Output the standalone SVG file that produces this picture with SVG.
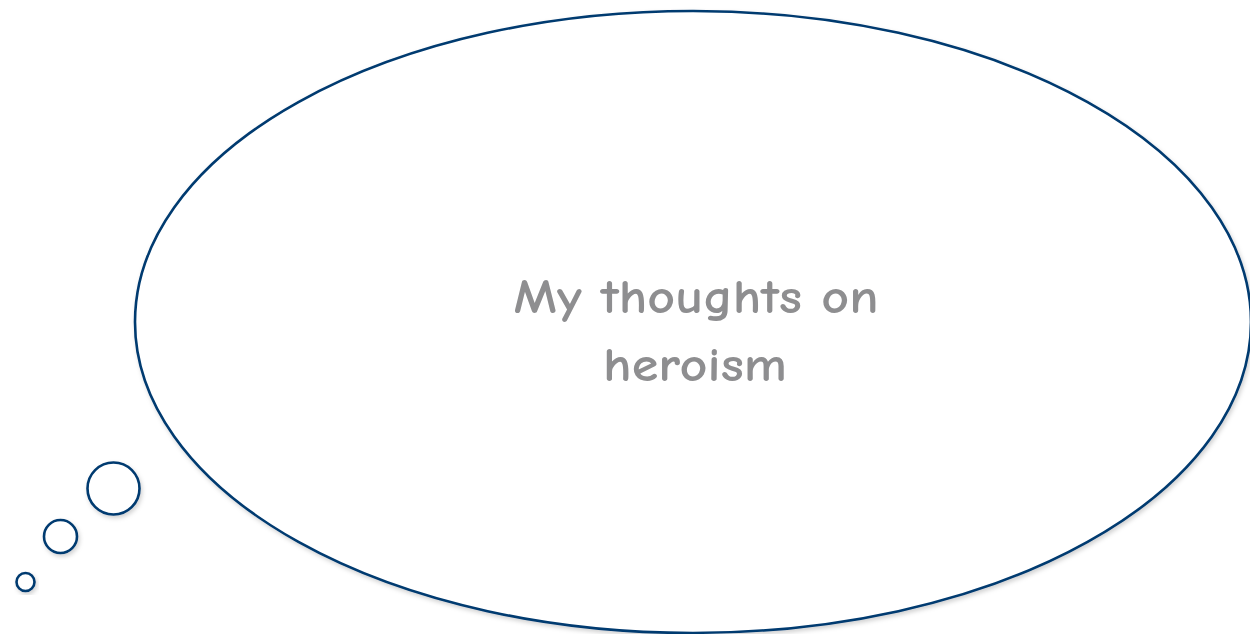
<svg xmlns="http://www.w3.org/2000/svg" width="1250" height="634" viewBox="0 0 1250 634">
<defs>
<style>
.shape{fill:#ffffff;stroke:#003a70;stroke-width:2.6;filter:url(#sh)}
.label{font-family:"Comic Neue","Lato","Liberation Sans",sans-serif;font-size:48px;fill:#8e8e90;text-anchor:middle;font-weight:bold}
</style>
<filter id="sh" x="-10%" y="-10%" width="130%" height="130%">
<feDropShadow dx="1.5" dy="2.5" stdDeviation="2" flood-color="#000" flood-opacity="0.18"/>
</filter>
</defs>
<g id="thought-cloud">
<ellipse class="shape" cx="693" cy="322" rx="558" ry="311"/>
<text class="label" x="696" y="313" textLength="365" lengthAdjust="spacingAndGlyphs">My thoughts on</text>
<text class="label" x="695" y="381" textLength="184" lengthAdjust="spacingAndGlyphs">heroism</text>
</g>
<g id="bubble-large"><circle class="shape" cx="113.5" cy="488.5" r="26"/></g>
<g id="bubble-medium"><circle class="shape" cx="60.5" cy="536.5" r="16.5"/></g>
<g id="bubble-small"><circle class="shape" cx="25.5" cy="582" r="9"/></g>
<g id="connectors"></g>
</svg>
